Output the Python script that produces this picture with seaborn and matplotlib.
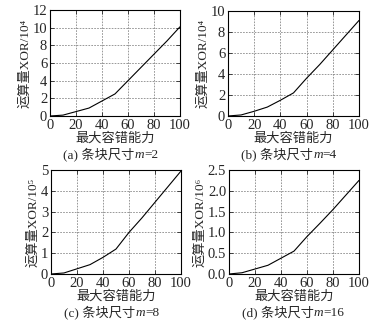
import matplotlib
matplotlib.use("Agg")
import matplotlib.pyplot as plt
import seaborn as sns
import pandas as pd

x_vals = [0, 10, 20, 30, 40, 50, 60, 70, 80, 90, 100]
y_m2 = [0, 0.1, 0.5, 0.9, 1.7, 2.5, 4.0, 5.5, 7.0, 8.5, 10.1]
y_m4 = [0, 0.1, 0.45, 0.85, 1.5, 2.2, 3.6, 4.9, 6.3, 7.7, 9.1]
y_m8 = [0, 0.05, 0.25, 0.45, 0.8, 1.2, 2.0, 2.7, 3.45, 4.2, 4.95]
y_m16 = [0, 0.03, 0.12, 0.21, 0.38, 0.55, 0.9, 1.22, 1.55, 1.9, 2.25]

series = [y_m2, y_m4, y_m8, y_m16]
letters = ["(a)", "(b)", "(c)", "(d)"]
m_vals = ["2", "4", "8", "16"]
exps = ["⁴", "⁴", "⁵", "⁶"]
ylims = [(0, 12), (0, 10), (0, 5), (0, 2.5)]
yticks = [[0, 2, 4, 6, 8, 10, 12], [0, 2, 4, 6, 8, 10], [0, 1, 2, 3, 4, 5],
          [0.0, 0.5, 1.0, 1.5, 2.0, 2.5]]
ytick_labels = [None, None, None, ["0.0", "0.5", "1.0", "1.5", "2.0", "2.5"]]
xticks = [0, 20, 40, 60, 80, 100]
xlabel = "最大容错能力"
ylabel_base = "运算量XOR/10"
caption_base = "条块尺寸"

sns.set_style("ticks")
fam = ["Liberation Serif", "Noto Sans CJK SC", "DejaVu Sans"]
plt.rcParams["font.family"] = fam

W, H = 386, 321
fig = plt.figure(figsize=(W / 100, H / 100), dpi=100)
boxes = [(50, 10, 130, 106), (228, 11, 131, 105), (51, 170, 130, 104), (229, 170, 130, 104)]

for i, (l, t, w, h) in enumerate(boxes):
    ax = fig.add_axes([l / W, 1 - (t + h) / H, w / W, h / H])
    df = pd.DataFrame({"x": x_vals, "y": series[i]})
    sns.lineplot(data=df, x="x", y="y", ax=ax, color="black", linewidth=0.8)
    ax.set_xlim(0, 100)
    ax.set_ylim(*ylims[i])
    ax.set_xticks(xticks)
    ax.set_yticks(yticks[i])
    if ytick_labels[i]:
        ax.set_yticklabels(ytick_labels[i])
    ax.grid(True, linestyle=(0, (2, 1.5)), color="#888888", linewidth=0.6)
    ax.tick_params(direction="in", top=True, right=True, labelsize=10.5, length=3,
                   width=0.6, pad=2)
    for s in ax.spines.values():
        s.set_linewidth(0.8)
        s.set_color("black")
    ax.set_xlabel(xlabel, fontsize=9.5, labelpad=0, family=fam)
    ax.set_ylabel(ylabel_base + exps[i], fontsize=9.5, labelpad=1, family=fam)
    t1 = ax.text(0.65, -31 / h, letters[i] + " " + caption_base, transform=ax.transAxes,
                 ha="right", va="top", fontsize=9.5, family=fam)
    t2 = ax.annotate("m", xy=(1, 0), xycoords=t1, va="bottom", ha="left",
                     fontsize=9.5, style="italic", family=fam)
    ax.annotate("=" + m_vals[i], xy=(1, 0), xycoords=t2, va="bottom", ha="left",
                fontsize=9.5, family=fam)

fig.savefig("out.png", dpi=100)
